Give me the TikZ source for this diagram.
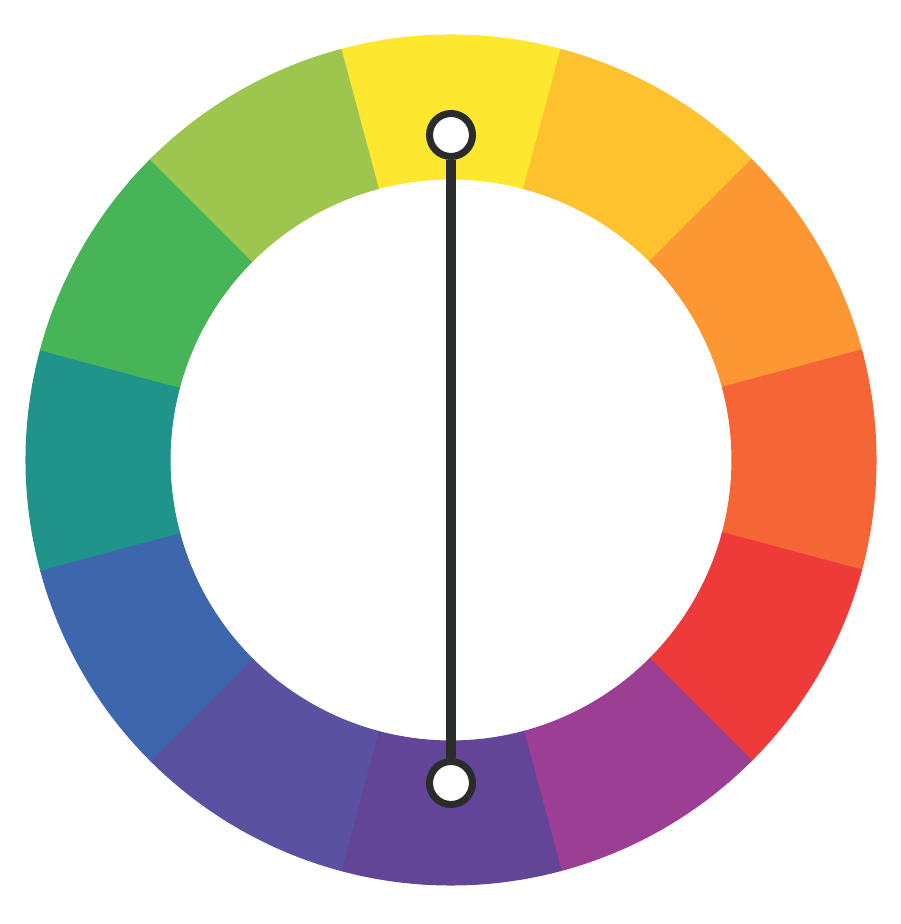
\documentclass[tikz,border=0pt]{standalone}
\usepackage{tkz-euclide}
\tikzset{>=stealth}
\definecolor{hueA}{HTML}{FDE72F}
\definecolor{hueB}{HTML}{FEC22E}
\definecolor{hueC}{HTML}{FC9734}
\definecolor{hueD}{HTML}{F56535}
\definecolor{hueE}{HTML}{EE3A38}
\definecolor{hueF}{HTML}{9C3E93}
\definecolor{hueG}{HTML}{624597}
\definecolor{hueH}{HTML}{5A52A0}
\definecolor{hueI}{HTML}{3D66AD}
\definecolor{hueJ}{HTML}{20938A}
\definecolor{hueK}{HTML}{46B457}
\definecolor{hueL}{HTML}{9EC64E}
\definecolor{ink}{HTML}{2A2B2B}
\tikzset{pin/.style={circle, draw=ink, fill=white, line width=2pt, minimum size=4.3mm, inner sep=0pt}}

\begin{document}
\begin{tikzpicture}
    \useasboundingbox (0,0) rectangle (9,9.24);
    \tkzDefPoints{4.51/4.64/O, 4.51/7.89/Y, 4.51/1.41/V}
    \foreach \a/\col in {90/hueA, 60/hueB, 30/hueC, 0/hueD, -30/hueE, -60/hueF,
                         -90/hueG, -120/hueH, -150/hueI, 180/hueJ, 150/hueK, 120/hueL}
        \filldraw[fill=\col, draw=\col, line width=0.3pt, shift={(O)}]
            (\a-15:4.25) arc[start angle=\a-15, end angle=\a+15, radius=4.25]
            -- (\a+15:2.81) arc[start angle=\a+15, end angle=\a-15, radius=2.81] -- cycle;
   %complementary pair
    \node[pin] (top) at (Y) {};
    \node[pin] (bot) at (V) {};
    \draw[ink, line width=3pt] (top) -- (bot);
\end{tikzpicture}
\end{document}
